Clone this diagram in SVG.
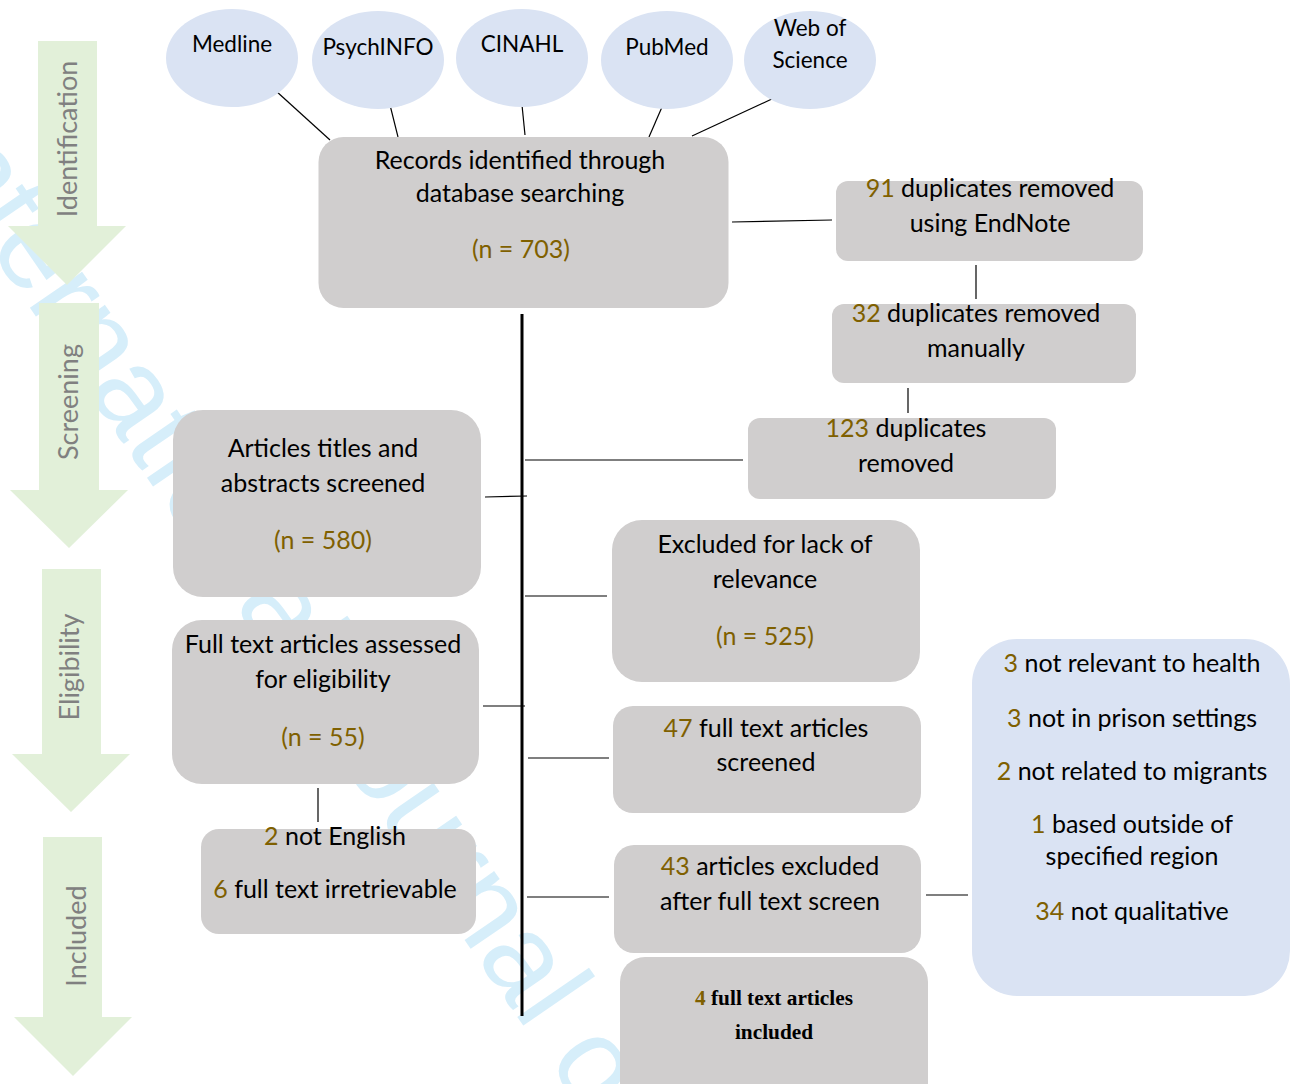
<svg xmlns="http://www.w3.org/2000/svg" width="1290" height="1084" viewBox="0 0 1290 1084">
<style>
.box{fill:#d0cece}
.db{fill:#dae3f3}
.t{font-family:Lato,'Liberation Sans',sans-serif;font-size:25px;fill:#000;text-anchor:middle}
.d{font-size:22.5px}
.n{fill:#7f6000}
.serif{font-family:'Liberation Serif',serif;font-weight:bold;font-size:21.3px}
.con{stroke:#000;stroke-width:1.2;fill:none}
.spine{stroke:#000;stroke-width:3;fill:none}
.stage{fill:#e2f0d9}
.stl{font-family:Lato,'Liberation Sans',sans-serif;font-size:27px;fill:#808080;text-anchor:middle}
.wm{font-family:'Liberation Sans',sans-serif;font-size:120px;fill:#d6eefa}
</style>
<rect width="1290" height="1084" fill="#fff"/>
<text class="wm" transform="translate(-88,136) rotate(55.5)">International Journal of</text>
<g id="stages">
<g id="stage-identification"><polygon class="stage" points="38,41 97,41 97,226 126,226 67,285 8,226 38,226"/><text class="stl" transform="translate(77,139) rotate(-90)">Identification</text></g>
<g id="stage-screening"><polygon class="stage" points="39,303 99,303 99,490 128,490 69,548 10,490 39,490"/><text class="stl" transform="translate(78,402) rotate(-90)">Screening</text></g>
<g id="stage-eligibility"><polygon class="stage" points="42,569 101,569 101,754 130,754 71,812 12,754 42,754"/><text class="stl" transform="translate(79,667) rotate(-90)">Eligibility</text></g>
<g id="stage-included"><polygon class="stage" points="43,837 102,837 102,1017 132,1017 73,1076 14,1017 43,1017"/><text class="stl" transform="translate(86,936) rotate(-90)">Included</text></g>
</g>
<g id="connectors">
<path class="con" d="M276,91 L330,140"/>
<path class="con" d="M390,105 L398,137"/>
<path class="con" d="M522,105 L525,135"/>
<path class="con" d="M662,107 L649,137"/>
<path class="con" d="M774,98 L692,136"/>
<path class="con" d="M732,222 L832,220"/>
<path class="con" d="M976,265 L976,299"/>
<path class="con" d="M908,388 L908,413"/>
<path class="spine" d="M522,314 L522,1016"/>
<path class="con" d="M525,460 L743,460"/>
<path class="con" d="M485,497 L527,496"/>
<path class="con" d="M525,596 L607,596"/>
<path class="con" d="M483,706 L525,706"/>
<path class="con" d="M318,788 L318,822"/>
<path class="con" d="M528,758 L609,758"/>
<path class="con" d="M527,897 L609,897"/>
<path class="con" d="M926,895 L968,895"/>
</g>
<g id="db-medline"><ellipse class="db" cx="232" cy="58" rx="66" ry="49"/><text class="t d" x="232" y="52">Medline</text></g>
<g id="db-psychinfo"><ellipse class="db" cx="378" cy="60" rx="66" ry="49"/><text class="t d" x="378" y="55">PsychINFO</text></g>
<g id="db-cinahl"><ellipse class="db" cx="522" cy="58" rx="66" ry="49"/><text class="t d" x="522" y="52">CINAHL</text></g>
<g id="db-pubmed"><ellipse class="db" cx="667" cy="60" rx="66" ry="49"/><text class="t d" x="667" y="55">PubMed</text></g>
<g id="db-wos"><ellipse class="db" cx="810" cy="60" rx="66" ry="49"/><text class="t d" x="810" y="36">Web of</text><text class="t d" x="810" y="68">Science</text></g>
<g id="records"><rect class="box" x="318.5" y="137" width="410" height="171" rx="25"/>
<text class="t" x="520" y="169">Records identified through</text>
<text class="t" x="520" y="202">database searching</text>
<text class="t n" x="521" y="258">(n = 703)</text></g>
<g id="dup-endnote"><rect class="box" x="836" y="181" width="307" height="80" rx="12"/>
<text class="t" x="990" y="197"><tspan class="n">91</tspan> duplicates removed</text>
<text class="t" x="990" y="232">using EndNote</text></g>
<g id="dup-manual"><rect class="box" x="832" y="304" width="304" height="79" rx="12"/>
<text class="t" x="976" y="322"><tspan class="n">32</tspan> duplicates removed</text>
<text class="t" x="976" y="357">manually</text></g>
<g id="dup-total"><rect class="box" x="748" y="418" width="308" height="81" rx="12"/>
<text class="t" x="906" y="437"><tspan class="n">123</tspan> duplicates</text>
<text class="t" x="906" y="472">removed</text></g>
<g id="screened"><rect class="box" x="173" y="410" width="308" height="187" rx="30"/>
<text class="t" x="323" y="457">Articles titles and</text>
<text class="t" x="323" y="492">abstracts screened</text>
<text class="t n" x="323" y="549">(n = 580)</text></g>
<g id="excluded"><rect class="box" x="612" y="520" width="308" height="162" rx="30"/>
<text class="t" x="765" y="553">Excluded for lack of</text>
<text class="t" x="765" y="588">relevance</text>
<text class="t n" x="765" y="645">(n = 525)</text></g>
<g id="fulltext"><rect class="box" x="172" y="620" width="307" height="164" rx="30"/>
<text class="t" x="323" y="653">Full text articles assessed</text>
<text class="t" x="323" y="688">for eligibility</text>
<text class="t n" x="323" y="746">(n = 55)</text></g>
<g id="ft-screened"><rect class="box" x="613" y="706" width="308" height="107" rx="20"/>
<text class="t" x="766" y="737"><tspan class="n">47</tspan> full text articles</text>
<text class="t" x="766" y="771">screened</text></g>
<g id="not-english"><rect class="box" x="201" y="829" width="275" height="105" rx="18"/>
<text class="t" x="335" y="845"><tspan class="n">2</tspan> not English</text>
<text class="t" x="335" y="898"><tspan class="n">6</tspan> full text irretrievable</text></g>
<g id="ft-excluded"><rect class="box" x="614" y="845" width="307" height="108" rx="20"/>
<text class="t" x="770" y="875"><tspan class="n">43</tspan> articles excluded</text>
<text class="t" x="770" y="910">after full text screen</text></g>
<g id="included"><rect class="box" x="620" y="957" width="308" height="150" rx="25"/>
<text class="t serif" x="774" y="1005"><tspan class="n">4</tspan> full text articles</text>
<text class="t serif" x="774" y="1039">included</text></g>
<g id="reasons"><rect class="db" x="972" y="639" width="318" height="357" rx="45"/>
<text class="t" x="1132" y="672"><tspan class="n">3</tspan> not relevant to health</text>
<text class="t" x="1132" y="727"><tspan class="n">3</tspan> not in prison settings</text>
<text class="t" x="1132" y="780"><tspan class="n">2</tspan> not related to migrants</text>
<text class="t" x="1132" y="833"><tspan class="n">1</tspan> based outside of</text>
<text class="t" x="1132" y="865">specified region</text>
<text class="t" x="1132" y="920"><tspan class="n">34</tspan> not qualitative</text></g>
</svg>
